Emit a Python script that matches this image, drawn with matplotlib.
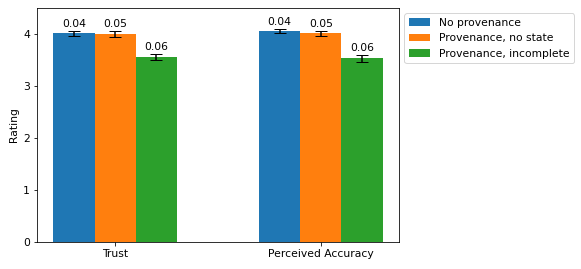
import numpy as np
import matplotlib
matplotlib.use("Agg")
import matplotlib.pyplot as plt

# data
categories = ["Trust", "Perceived Accuracy"]
series = ["No provenance", "Provenance, no state", "Provenance, incomplete"]
no_prov = [4.01, 4.06]
prov_no_state = [4.00, 4.01]
prov_incomplete = [3.56, 3.53]
err_no_prov = [0.04, 0.04]
err_no_state = [0.05, 0.05]
err_incomplete = [0.06, 0.06]

means = [no_prov, prov_no_state, prov_incomplete]
errs = [err_no_prov, err_no_state, err_incomplete]
colors = ["#1f77b4", "#ff7f0e", "#2ca02c"]

plt.rcParams["font.size"] = 10.8

fig = plt.figure(figsize=(581 / 72, 269 / 72), dpi=72)
ax = fig.add_axes([37 / 581, 1 - 242 / 269, (399 - 37) / 581, (242 - 8) / 269])

x = np.arange(len(categories))
width = 0.2
for i, (m, e) in enumerate(zip(means, errs)):
    bars = ax.bar(x + (i - 1) * width, m, width, yerr=e, capsize=6,
                  color=colors[i], label=series[i])
    ax.bar_label(bars, labels=[f"{v:.2f}" for v in e], padding=2)

ax.set_xticks(x)
ax.set_xticklabels(categories)
ax.set_ylabel("Rating")
ax.set_ylim(0, 4.5)
ax.set_yticks(range(5))
ax.legend(loc="upper left", bbox_to_anchor=(1, 1))

fig.savefig("out.png", dpi=72)
